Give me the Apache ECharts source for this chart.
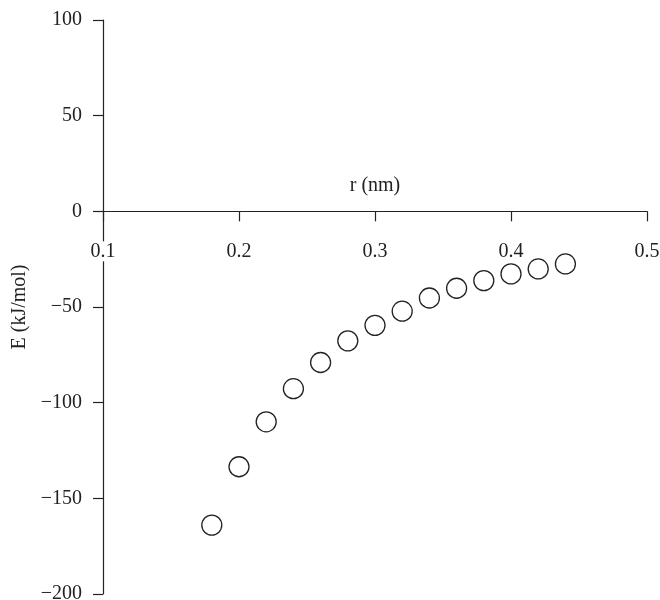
<!DOCTYPE html>
<html>
<head>
<meta charset="utf-8">
<script src="https://cdn.jsdelivr.net/npm/echarts@6/dist/echarts.min.js"></script>
<style>html,body{margin:0;padding:0;background:#fff}#c{width:660px;height:600px}</style>
</head>
<body>
<div id="c"></div>
<script>
const rValues = [0.18, 0.20, 0.22, 0.24, 0.26, 0.28, 0.30, 0.32, 0.34, 0.36, 0.38, 0.40, 0.42, 0.44];
const energyValues = [-164, -133.5, -110, -92.7, -79, -67.7, -59.6, -52.2, -45.3, -40.2, -36.2, -32.7, -30.1, -27.5];
const xTicks = [0.1, 0.2, 0.3, 0.4, 0.5];
const yTicks = [-200, -150, -100, -50, 0, 50, 100];

const font = 'Liberation Serif';
const ink = '#222';
const gridTop = 20, gridBottom = 6, H = 600;
const plotH = H - gridTop - gridBottom;
const yMin = yTicks[0], yMax = yTicks[yTicks.length - 1];
// distance from grid top to the y=0 line (x axis crosses at zero)
const zeroOffset = plotH * (yMax - 0) / (yMax - yMin);

const chart = echarts.init(document.getElementById('c'), null, {renderer: 'canvas'});
chart.setOption({
  animation: false,
  backgroundColor: '#fff',
  grid: {left: 103, right: 13, top: gridTop, bottom: gridBottom, containLabel: false, outerBoundsMode: 'none'},
  xAxis: {
    type: 'value',
    position: 'top',
    offset: -zeroOffset,
    min: xTicks[0], max: xTicks[xTicks.length - 1], interval: 0.1,
    name: 'r (nm)', nameLocation: 'middle', nameGap: 16,
    nameTextStyle: {fontFamily: font, fontSize: 20, color: ink},
    axisLine: {onZero: false, lineStyle: {color: ink, width: 1.2}},
    axisTick: {show: true, inside: true, length: 10, lineStyle: {color: ink, width: 1.2}},
    axisLabel: {inside: true, margin: 30, fontFamily: font, fontSize: 20, color: ink,
      backgroundColor: '#fff', padding: [0, 2],
      formatter: v => v.toFixed(1)},
    splitLine: {show: false},
    z: 5
  },
  yAxis: {
    type: 'value',
    min: yMin, max: yMax, interval: 50,
    name: 'E (kJ/mol)', nameLocation: 'middle', nameGap: 73, nameRotate: 90,
    nameTextStyle: {fontFamily: font, fontSize: 20, color: ink},
    axisLine: {show: true, onZero: false, lineStyle: {color: ink, width: 1.2}},
    axisTick: {show: true, inside: false, length: 10, lineStyle: {color: ink, width: 1.2}},
    axisLabel: {margin: 21, fontFamily: font, fontSize: 20, color: ink,
      formatter: v => String(v).replace('-', '\u2212')},
    splitLine: {show: false}
  },
  series: [{
    type: 'scatter',
    data: rValues.map((r, i) => [r, energyValues[i]]),
    symbol: 'circle',
    symbolSize: 20,
    itemStyle: {color: '#fff', borderColor: ink, borderWidth: 1.3, opacity: 1}
  }]
});
</script>
</body>
</html>
